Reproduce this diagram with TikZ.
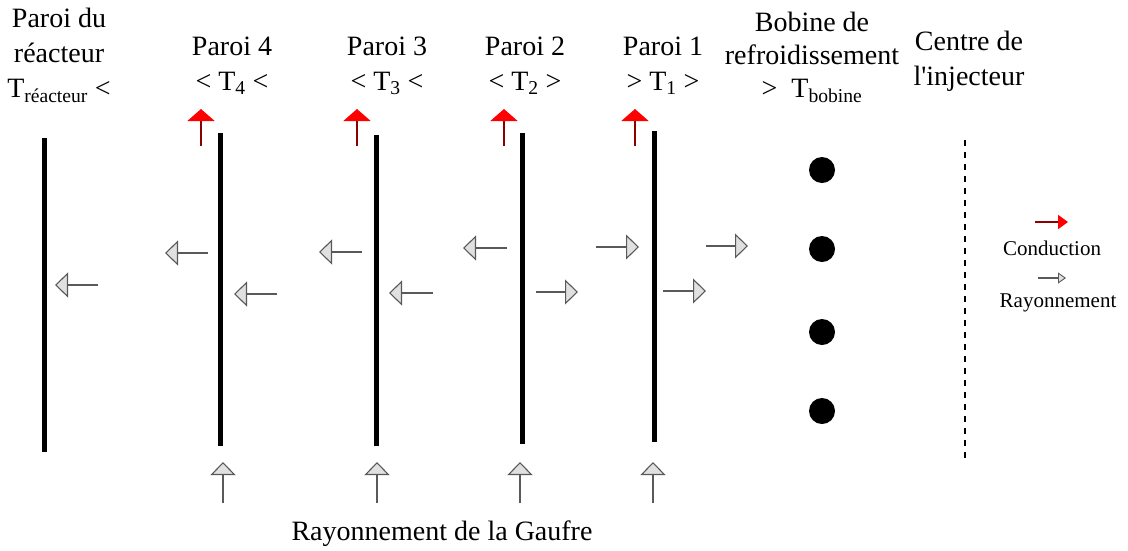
\documentclass[tikz,border=0pt]{standalone}
\usepackage{fontspec}
\setmainfont{Liberation Serif}
\usetikzlibrary{arrows.meta}
\begin{document}
\begin{tikzpicture}[x=1pt,y=-1pt,
  wall/.style={line width=5pt},
  ray/.style={draw=black!65, line width=1.4pt, -{Triangle[length=13pt,width=25pt,fill=black!12,line width=1.1pt]}},
  cond/.style={draw=red!55!black, line width=2pt, -{Triangle[length=12pt,width=27pt,red]}},
  lbl/.style={font=\fontsize{28}{35}\selectfont, align=center, anchor=base, inner sep=0pt},
  leg/.style={font=\fontsize{21}{25}\selectfont, anchor=base, inner sep=0pt},
  dot/.style={circle, fill=black, minimum size=26pt, inner sep=0pt}]
\useasboundingbox (0,0) rectangle (1128,550);
% walls
\draw[wall] (44,138) -- (44,452);
\draw[wall] (220,133) -- (220,446);
\draw[wall] (376,135) -- (376,446);
\draw[wall] (522,133) -- (522,444);
\draw[wall] (654,131) -- (654,442);
% conduction arrows
\foreach \x in {201,357,504,635} \draw[cond] (\x,146) -- (\x,109);
% radiation arrows
\draw[ray] (98,285) -- (55,285);
\draw[ray] (208,253) -- (165,253);
\draw[ray] (277,294) -- (234,294);
\draw[ray] (362,252) -- (319,252);
\draw[ray] (433,293) -- (389,293);
\draw[ray] (507,248) -- (463,248);
\draw[ray] (536,292) -- (578,292);
\draw[ray] (596,247) -- (639,247);
\draw[ray] (663,291) -- (706,291);
\draw[ray] (706,246) -- (748,246);
\foreach \x in {223,377,520,653} \draw[ray] (\x,503) -- (\x,462);
% coil
\foreach \y/\n in {170/1,249/2,332/3,411/4} \node[dot] (coil\n) at (822,\y) {};
% injector centre
\draw[line width=1.2pt, dash pattern=on 6pt off 6pt] (965,140) -- (965,462);
% labels (base anchor = baseline of the last line)
\node[lbl] (reac) at (59,97) {Paroi du\\réacteur\\T\textsubscript{réacteur} <};
\node[lbl] (p4) at (232,90) {Paroi 4\\< T\textsubscript{4} <};
\node[lbl] (p3) at (387,90) {Paroi 3\\< T\textsubscript{3} <};
\node[lbl] (p2) at (525,90) {Paroi 2\\< T\textsubscript{2} >};
\node[lbl] (p1) at (663,90) {Paroi 1\\> T\textsubscript{1} >};
\node[lbl, font=\fontsize{28}{33}\selectfont] (bob) at (812,97) {Bobine de\\refroidissement\\>\ \ T\textsubscript{bobine}};
\node[lbl] (cent) at (969,85) {Centre de\\l\textquotesingle injecteur};
\node[lbl] (gauf) at (442,540) {Rayonnement de la Gaufre};
% legend
\draw[draw=red!55!black, line width=2pt, -{Triangle[length=10pt,width=14pt,red]}] (1035,222) -- (1068,222);
\node[leg] (lcond) at (1052,255) {Conduction};
\draw[draw=black!65, line width=1.2pt, -{Triangle[length=8pt,width=11pt,fill=black!12,line width=0.9pt]}] (1038,278) -- (1066,278);
\node[leg] (lray) at (1058,307) {Rayonnement};
\end{tikzpicture}
\end{document}
